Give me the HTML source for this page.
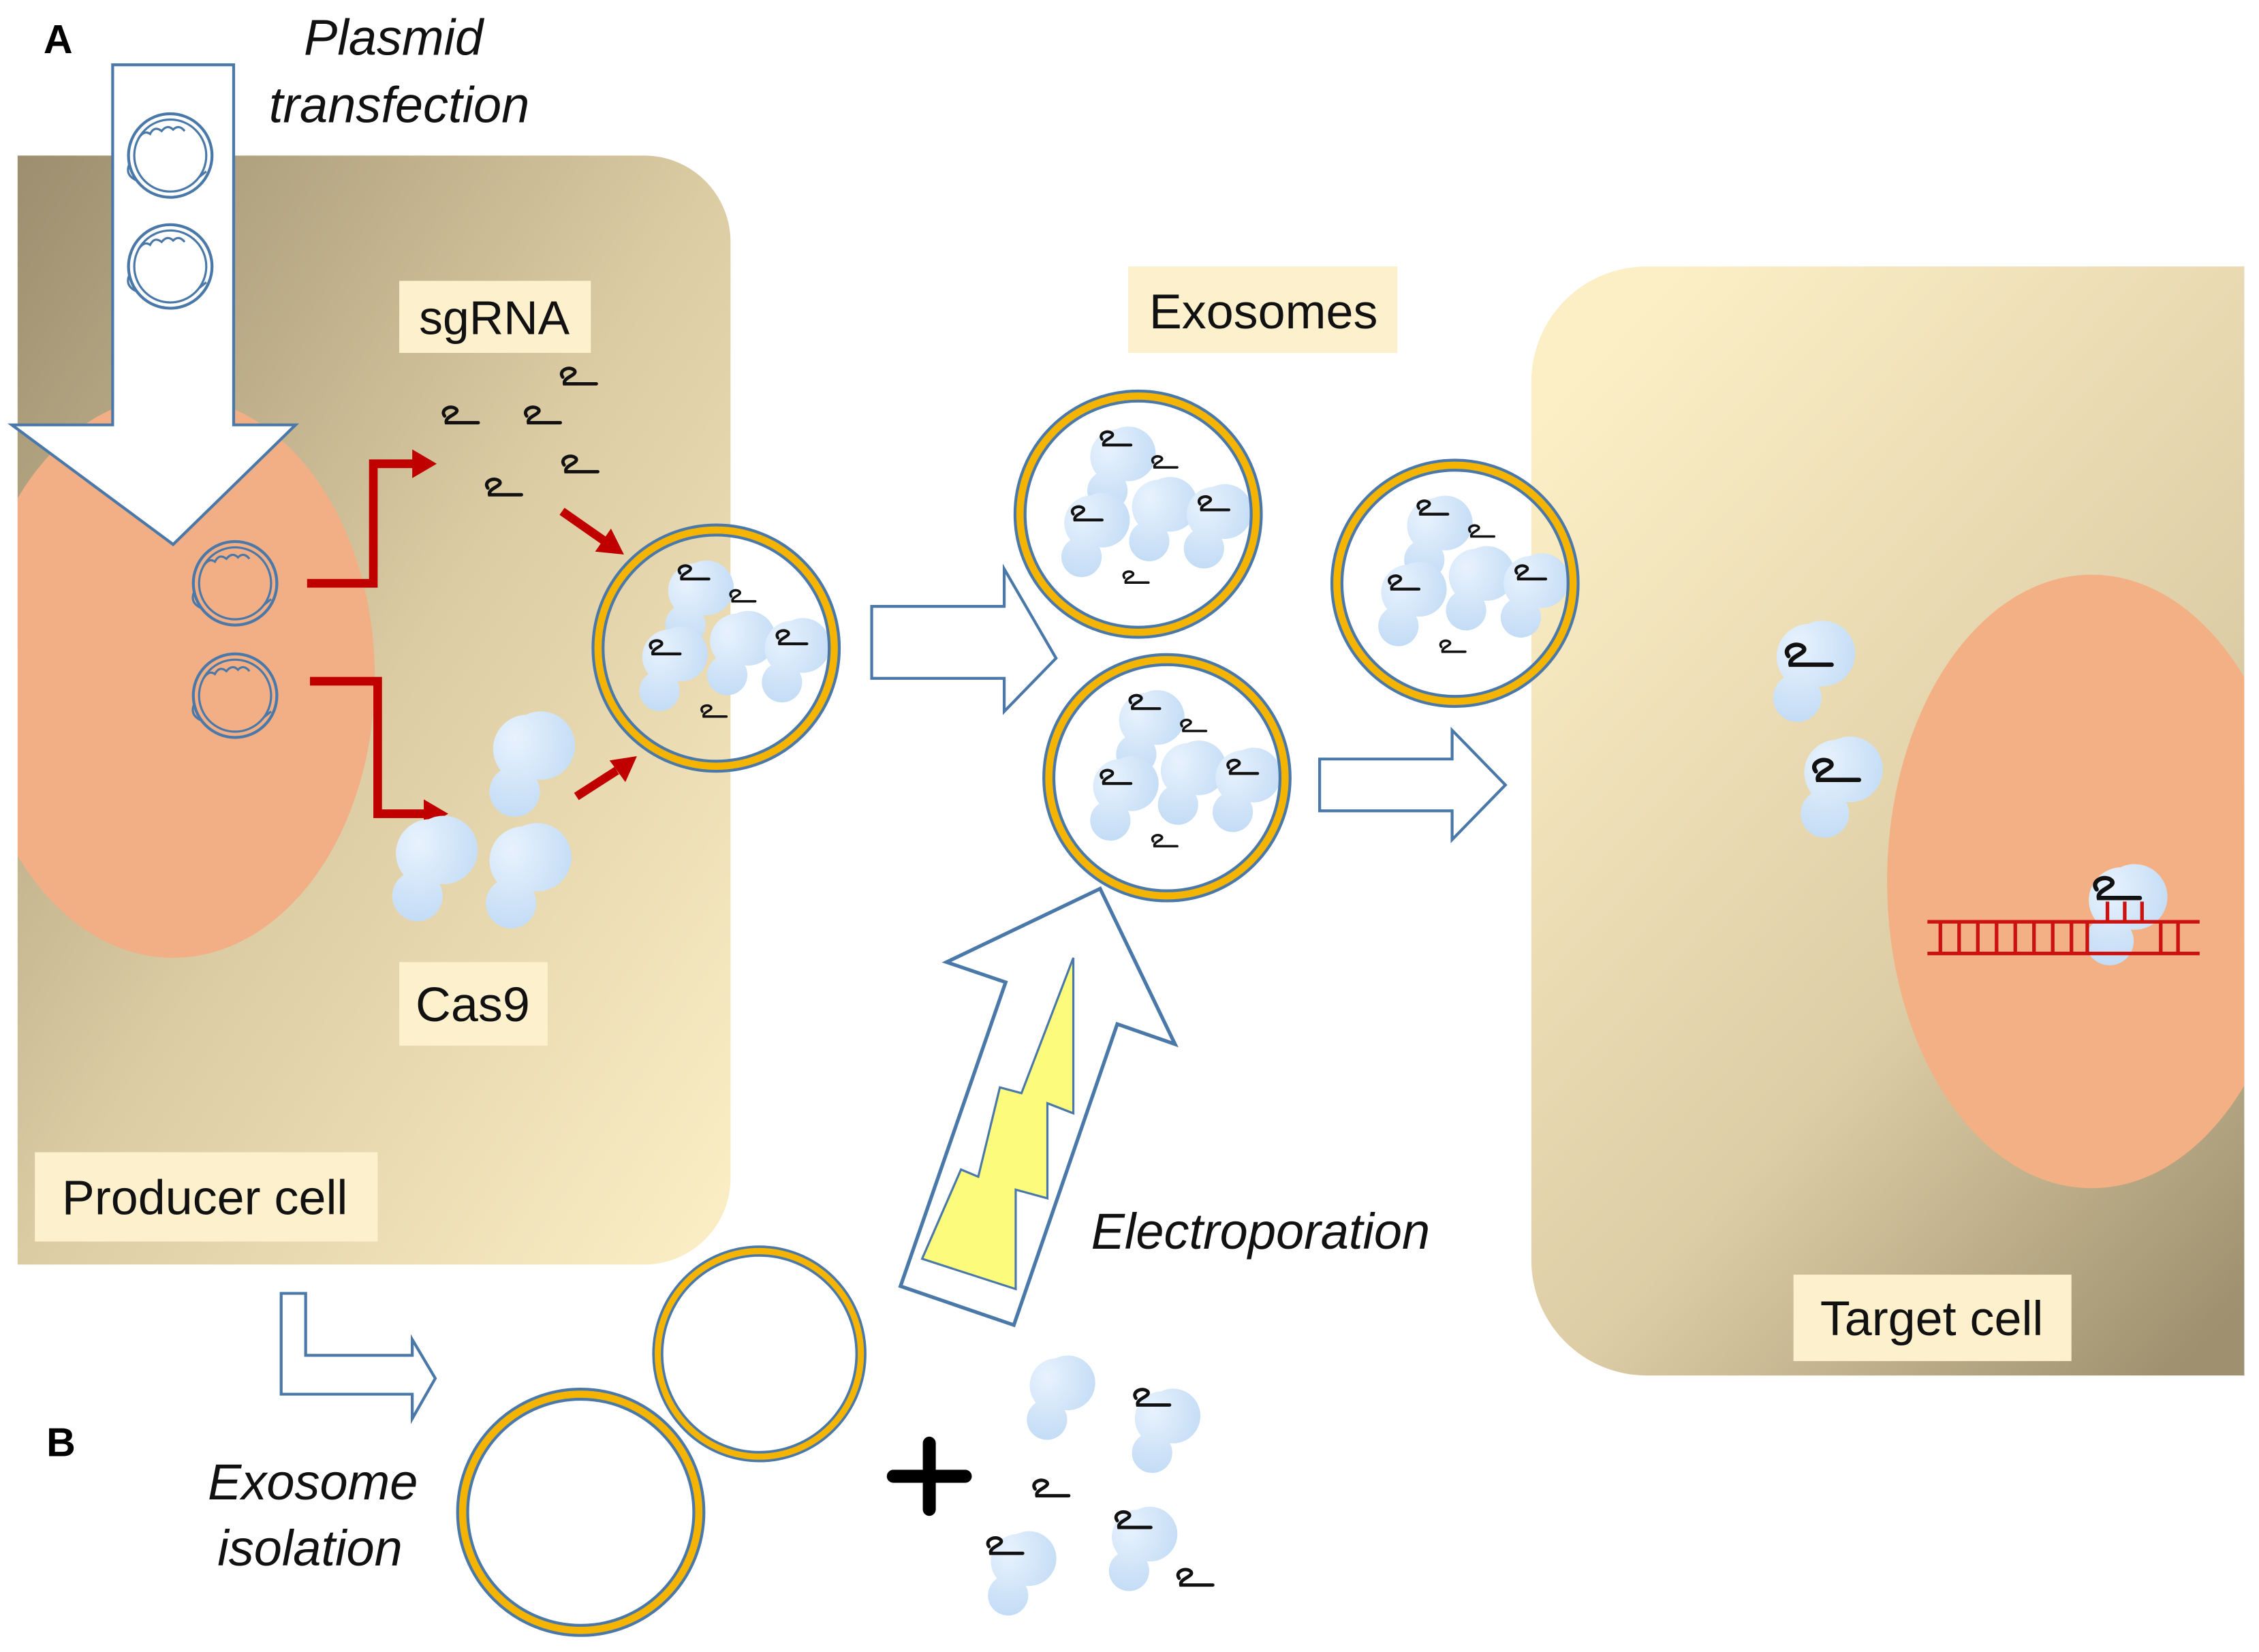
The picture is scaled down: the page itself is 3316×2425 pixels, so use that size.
<!DOCTYPE html>
<html><head><meta charset="utf-8"><style>html,body{margin:0;padding:0;background:#fff}svg{display:block}text{font-family:"Liberation Sans",sans-serif}</style></head>
<body>
<svg width="3316" height="2425" viewBox="0 0 1568 1147" xmlns="http://www.w3.org/2000/svg">
<defs>
<linearGradient id="pc" x1="0" y1="0" x2="1" y2="1"><stop offset="0" stop-color="#9c8e6e"/><stop offset="0.5" stop-color="#dccca4"/><stop offset="1" stop-color="#fcefc6"/></linearGradient>
<linearGradient id="tc" x1="0.2" y1="0" x2="0.9" y2="1"><stop offset="0" stop-color="#fcefc6"/><stop offset="0.6" stop-color="#ddcda6"/><stop offset="1" stop-color="#9f916f"/></linearGradient>
<radialGradient id="bl" cx="0.3" cy="0.25" r="0.9"><stop offset="0" stop-color="#e8f2fd"/><stop offset="1" stop-color="#bcd8f4"/></radialGradient>
<clipPath id="cp1"><path d="M12,108 H447 A60,60 0 0 1 507,168 V818 A60,60 0 0 1 447,878 H12 Z"/></clipPath>
<clipPath id="cp2"><path d="M1143,185 H1558 V955 H1143 A80,80 0 0 1 1063,875 V265 A80,80 0 0 1 1143,185 Z"/></clipPath>
<symbol id="sq" viewBox="0 0 24 12" overflow="visible"><path d="M3,5 C0,1 7,-2 10,1 C12,4 3,5 4,9 L23,9" fill="none" stroke="#111" stroke-width="2" stroke-linecap="round"/></symbol>
<g id="cas"><path d="M0,-19 A19,19 0 1 1 6,17 A14,14 0 1 1 -14,12 A19,19 0 0 1 0,-19 Z" fill="url(#bl)"/></g>
<g id="ring"><circle r="82" fill="none" stroke="#4a78a8" stroke-width="9"/><circle r="82" fill="none" stroke="#f5b400" stroke-width="5"/></g>
<g id="exo">
<use href="#cas" x="-15" y="-40"/><use href="#sq" x="-28" y="-57" width="24" height="12"/>
<use href="#sq" x="8" y="-40" width="20" height="10"/>
<use href="#cas" x="-33" y="6"/><use href="#sq" x="-48" y="-5" width="24" height="12"/>
<use href="#cas" x="14" y="-5"/>
<use href="#cas" x="52" y="0"/><use href="#sq" x="40" y="-12" width="24" height="12"/>
<use href="#sq" x="-12" y="40" width="20" height="10"/>
<use href="#ring"/>
</g>
<g id="pl"><circle r="29" fill="none" stroke="#4a78a8" stroke-width="2"/><circle r="25" fill="none" stroke="#4a78a8" stroke-width="1.5"/><path d="M-22,-12 q4,-6 8,-3 q3,-6 8,-2 q4,-5 8,-1 q4,-4 8,1" fill="none" stroke="#4a78a8" stroke-width="1.5"/><path d="M-28,5 q-4,8 4,12 M20,15 l5,-4" fill="none" stroke="#4a78a8" stroke-width="1.5"/></g>
</defs>

<path d="M12,108 H447 A60,60 0 0 1 507,168 V818 A60,60 0 0 1 447,878 H12 Z" fill="url(#pc)"/>
<ellipse cx="120" cy="470" rx="140" ry="195" fill="#f2ae84" clip-path="url(#cp1)"/>

<path d="M1143,185 H1558 V955 H1143 A80,80 0 0 1 1063,875 V265 A80,80 0 0 1 1143,185 Z" fill="url(#tc)"/>
<ellipse cx="1452" cy="612" rx="142" ry="213" fill="#f2b084" clip-path="url(#cp2)"/>

<path d="M78,45 H162 V295 H205 L120,378 L8,295 H78 Z" fill="#fff" stroke="#4a78a8" stroke-width="2"/>
<use href="#pl" x="118" y="108"/><use href="#pl" x="118" y="185"/>
<use href="#pl" x="163" y="405"/><use href="#pl" x="163" y="483"/>

<g fill="none" stroke="#c00000" stroke-width="6">
<path d="M213,405 H259 V322 H288"/>
<path d="M215,473 H262 V565 H296"/>
<path d="M390,355 L420,376"/>
<path d="M400,553 L428,535"/>
</g>
<g fill="#c00000">
<polygon points="286,312 303,322 286,332"/>
<polygon points="294,555 311,565 294,575"/>
<polygon points="433,385 413,383 424,367"/>
<polygon points="442,525 434,543 423,528"/>
</g>

<use href="#sq" x="387" y="256" width="28" height="14"/>
<use href="#sq" x="305" y="283" width="28" height="14"/>
<use href="#sq" x="362" y="283" width="28" height="14"/>
<use href="#sq" x="388" y="317" width="28" height="14"/>
<use href="#sq" x="335" y="333" width="28" height="14"/>

<g transform="scale(1.25)"><use href="#cas" x="292" y="416"/><use href="#cas" x="238" y="474"/><use href="#cas" x="290" y="478"/></g>

<use href="#exo" x="497" y="450"/>
<use href="#exo" x="790" y="357"/>
<use href="#exo" x="810" y="540"/>
<use href="#exo" x="1010" y="405"/>

<path d="M605,421 H697 V395 L733,457 L697,494 V471 H605 Z" fill="#fff" stroke="#4a78a8" stroke-width="2"/>
<path d="M916,527 H1008 V507 L1045,545 L1008,583 V563 H916 Z" fill="#fff" stroke="#4a78a8" stroke-width="2"/>
<path d="M195,898 H212 V941 H286 V930 L302,957 L286,985 V968 H195 Z" fill="#fff" stroke="#4a78a8" stroke-width="2"/>
<path d="M763.6,617 L815.6,725 L775.5,711 L703.7,920 L625,893 L698,682 L657,668 Z" fill="#fff" stroke="#4a78a8" stroke-width="2.5"/>
<path d="M745,665 L745,773 L727,766 L727,832 L705,826 L705,895 L640,874 L667,812 L679,817 L694,755 L709,759 Z" fill="#fdfb7c" stroke="#4a78a8" stroke-width="1.5"/>

<g transform="translate(527,940) scale(0.86,0.87)"><use href="#ring"/></g>
<g transform="translate(403,1050)"><use href="#ring"/></g>

<path d="M645,1002 V1048 M620,1025 H670" stroke="#000" stroke-width="9" stroke-linecap="round"/>

<use href="#cas" x="733" y="962"/>
<use href="#cas" x="806" y="985"/><use href="#sq" x="785" y="965" width="28" height="14"/>
<use href="#sq" x="715" y="1028" width="28" height="14"/>
<use href="#cas" x="706" y="1084"/><use href="#sq" x="683" y="1068" width="28" height="14"/>
<use href="#cas" x="790" y="1067"/><use href="#sq" x="772" y="1050" width="28" height="14"/>
<use href="#sq" x="815" y="1090" width="28" height="14"/>

<g transform="scale(1.2)"><use href="#cas" x="1046" y="380"/><use href="#cas" x="1062" y="447"/></g>
<use href="#sq" x="1236" y="448" width="38" height="18"/>
<use href="#sq" x="1255" y="528" width="38" height="18"/>
<g transform="translate(1472,625) scale(1.2)"><use href="#cas"/></g>
<g stroke="#cc1111" stroke-width="2.5" fill="none">
<path d="M1338,640 H1527 M1338,662 H1527"/>
<path d="M1347,640 V662 M1360,640 V662 M1373,640 V662 M1386,640 V662 M1399,640 V662 M1412,640 V662 M1425,640 V662 M1438,640 V662 M1449,640 V662 M1500,640 V662 M1512,640 V662"/>
<path d="M1463,626 V640 M1475,626 V640 M1487,626 V640"/>
</g>
<use href="#sq" x="1450" y="610" width="38" height="18"/>

<rect x="277" y="195" width="133" height="50" fill="#fdf0cc"/>
<text x="343" y="232" font-size="33" text-anchor="middle" fill="#111">sgRNA</text>
<rect x="783" y="185" width="187" height="60" fill="#fdf0cc"/>
<text x="877" y="228" font-size="34" text-anchor="middle" fill="#111">Exosomes</text>
<rect x="277" y="668" width="103" height="58" fill="#fdf0cc"/>
<text x="328" y="709" font-size="34" text-anchor="middle" fill="#111">Cas9</text>
<rect x="24" y="800" width="238" height="62" fill="#fdf0cc"/>
<text x="142" y="843" font-size="34" text-anchor="middle" fill="#111">Producer cell</text>
<rect x="1245" y="885" width="193" height="60" fill="#fdf0cc"/>
<text x="1341" y="927" font-size="34" text-anchor="middle" fill="#111">Target cell</text>

<text x="30" y="37" font-size="28" font-weight="bold">A</text>
<text x="32" y="1011" font-size="28" font-weight="bold">B</text>
<g font-style="italic" font-size="35" text-anchor="middle" fill="#111">
<text x="273" y="38">Plasmid</text>
<text x="277" y="85">transfection</text>
<text x="875" y="867">Electroporation</text>
<text x="217" y="1041">Exosome</text>
<text x="215" y="1087">isolation</text>
</g>
</svg>
</body></html>
